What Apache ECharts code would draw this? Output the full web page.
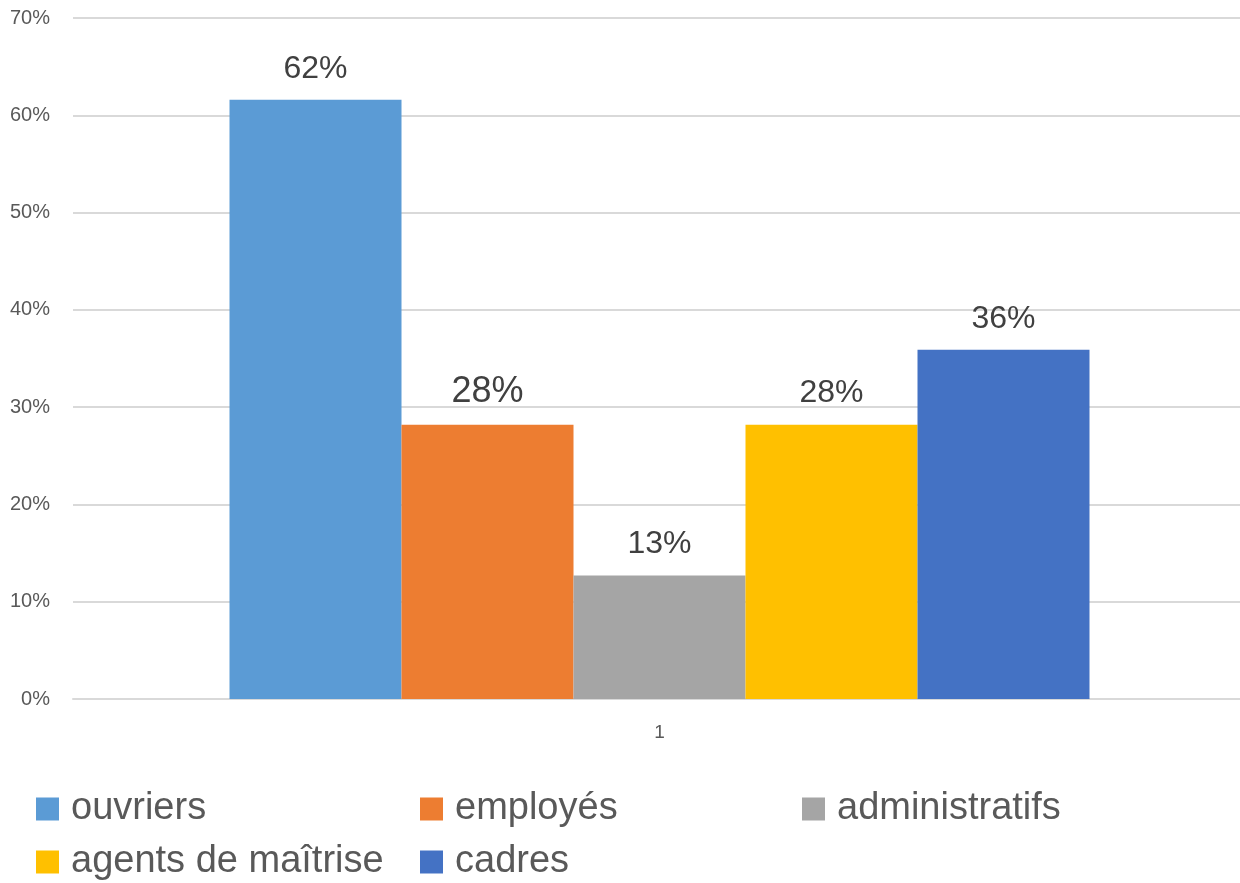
<!DOCTYPE html>
<html>
<head>
<meta charset="utf-8">
<script src="https://cdn.jsdelivr.net/npm/echarts@6/dist/echarts.min.js"></script>
<style>
html,body{margin:0;padding:0;background:#fff;}
#chart{width:1240px;height:883px;}
</style>
</head>
<body>
<div id="chart"></div>
<script>
const categories = ['1'];
const seriesNames = ['ouvriers', 'employés', 'administratifs', 'agents de maîtrise', 'cadres'];
const seriesValues = [61.6, 28.2, 12.7, 28.2, 35.9];
const seriesColors = ['#5B9BD5', '#ED7D31', '#A5A5A5', '#FFC000', '#4472C4'];
const labelSizes = [32, 36, 32, 32, 32];
const yTicks = { min: 0, max: 70, interval: 10 };

const FONT = '"Liberation Sans", Arial, sans-serif';

const series = seriesNames.map((name, i) => ({
  name: name,
  type: 'bar',
  data: [seriesValues[i]],
  barWidth: 172,
  barGap: '0%',
  itemStyle: { color: seriesColors[i] },
  label: {
    show: true,
    position: 'top',
    distance: 15,
    formatter: p => Math.round(p.value) + '%',
    fontFamily: FONT,
    fontSize: labelSizes[i],
    color: '#404040'
  }
}));

const legendPos = [
  { left: 36, top: 790 },
  { left: 420, top: 790 },
  { left: 802, top: 790 },
  { left: 36, top: 843 },
  { left: 420, top: 843 }
];
const legends = seriesNames.map((name, i) => ({
  data: [name],
  left: legendPos[i].left,
  top: legendPos[i].top,
  padding: 0,
  itemWidth: 23,
  itemHeight: 23,
  icon: 'rect',
  selectedMode: false,
  textStyle: { fontFamily: FONT, fontSize: 38, color: '#595959', padding: [0, 0, 0, 7] }
}));

const chart = echarts.init(document.getElementById('chart'), null, { renderer: 'canvas' });
chart.setOption({
  animation: false,
  backgroundColor: '#ffffff',
  grid: { left: 73, top: 18, right: -6, bottom: 184, containLabel: false, outerBoundsMode: 'none' },
  legend: legends,
  xAxis: {
    type: 'category',
    data: categories,
    axisLine: { show: true, lineStyle: { color: '#d9d9d9', width: 2 } },
    axisTick: { show: false },
    axisLabel: { fontFamily: FONT, fontSize: 19, color: '#595959', margin: 24 }
  },
  yAxis: {
    type: 'value',
    min: yTicks.min,
    max: yTicks.max,
    interval: yTicks.interval,
    axisLine: { show: false },
    axisTick: { show: false },
    splitLine: { lineStyle: { color: '#d9d9d9', width: 2 } },
    axisLabel: { fontFamily: FONT, fontSize: 20, color: '#595959', margin: 23, formatter: v => Math.round(v) + '%' }
  },
  series: series
});
</script>
</body>
</html>
